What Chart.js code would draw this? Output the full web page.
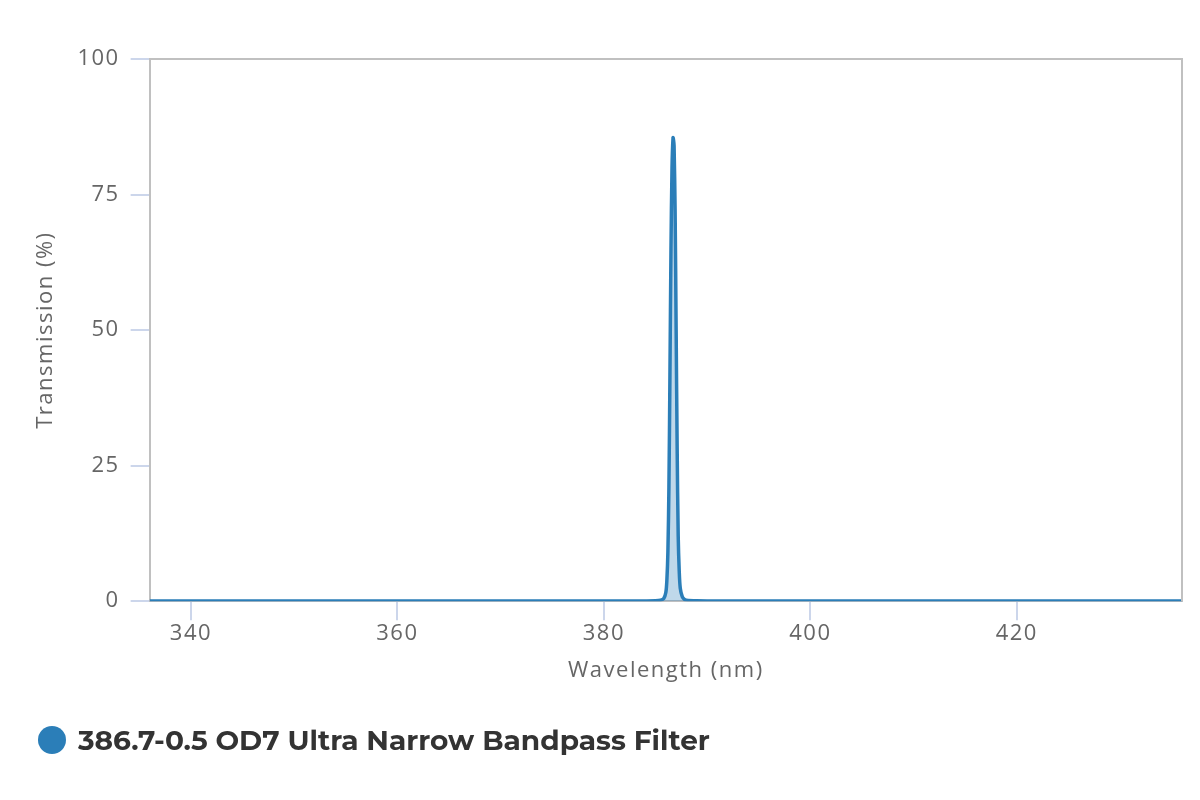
<!DOCTYPE html>
<html>
<head>
<meta charset="utf-8">
<script src="https://cdn.jsdelivr.net/npm/chart.js@4.4.1/dist/chart.umd.min.js"></script>
<style>
  html, body { margin: 0; padding: 0; background: #ffffff; }
  #wrap { position: relative; width: 1200px; height: 800px; }
  #legend { position: absolute; left: 38px; top: 723px; display: flex; align-items: center;
            font-family: Montserrat, "Open Sans", sans-serif; font-weight: 700; font-size: 28px; color: #333333; }
  #legend .dot { width: 28px; height: 28px; border-radius: 50%; background: #2b7eb8; margin-right: 12px; }
</style>
</head>
<body>
<div id="wrap">
  <canvas id="c" width="1200" height="800"></canvas>
  <div id="legend"><span class="dot"></span><span id="legendText"></span></div>
</div>
<script>
const seriesName = "386.7-0.5 OD7 Ultra Narrow Bandpass Filter";
const wavelengths = [336, 350, 370, 380, 384, 385, 385.5, 385.8, 386.0, 386.1, 386.2, 386.3, 386.4, 386.5, 386.6, 386.7, 386.75, 386.8, 386.9, 387.0, 387.1, 387.2, 387.3, 387.4, 387.6, 387.8, 388, 389, 390, 400, 420, 436];
const transmission = [0.02, 0.02, 0.02, 0.03, 0.05, 0.08, 0.2, 0.5, 1.6, 3.8, 9, 21, 42, 65, 80, 85.5, 85.0, 84, 72, 50, 28, 12, 5.5, 2.4, 0.8, 0.35, 0.2, 0.08, 0.05, 0.03, 0.02, 0.02];
const xTicks = [340, 360, 380, 400, 420];
const yTicks = [0, 25, 50, 75, 100];

document.getElementById('legendText').textContent = seriesName;
const points = wavelengths.map((w, i) => ({ x: w, y: transmission[i] }));

const spacing = {
  id: 'spacing',
  beforeUpdate(chart) { chart.ctx.letterSpacing = '1.5px'; },
  beforeLayout(chart) { chart.ctx.letterSpacing = '1.5px'; },
  beforeDraw(chart) { chart.ctx.letterSpacing = '1.5px'; }
};

const frame = {
  id: 'frame',
  afterDraw(chart) {
    const { ctx, chartArea: a } = chart;
    ctx.save();
    ctx.strokeStyle = '#c0c0c0';
    ctx.lineWidth = 2;
    ctx.beginPath();
    ctx.moveTo(a.left, a.top);
    ctx.lineTo(a.right, a.top);
    ctx.lineTo(a.right, a.bottom);
    ctx.stroke();
    ctx.restore();
  }
};

new Chart(document.getElementById('c'), {
  type: 'scatter',
  data: {
    datasets: [{
      label: seriesName,
      data: points,
      showLine: true,
      borderColor: '#2b7eb8',
      backgroundColor: 'rgba(43,126,184,0.3)',
      fill: 'origin',
      borderWidth: 3.5,
      pointRadius: 0,
      tension: 0.3
    }]
  },
  plugins: [spacing, frame],
  options: {
    responsive: false,
    animation: false,
    layout: { padding: { left: 33, right: 18, top: 59, bottom: 116 } },
    plugins: {
      tooltip: { enabled: false },
      legend: { display: false }
    },
    scales: {
      x: {
        type: 'linear',
        min: 336,
        max: 436,
        afterBuildTicks(axis) { axis.ticks = xTicks.map(v => ({ value: v })); },
        grid: { drawOnChartArea: false, drawTicks: true, tickLength: 19, color: '#ccd6eb', lineWidth: 2 },
        border: { display: true, color: '#c0c0c0', width: 2 },
        ticks: { color: '#666666', padding: 0, font: { family: '"Open Sans", sans-serif', size: 22 } },
        title: { display: true, text: 'Wavelength (nm)', color: '#666666', padding: { top: 11, bottom: 0 }, font: { family: '"Open Sans", sans-serif', size: 22 } }
      },
      y: {
        min: 0,
        max: 100,
        afterBuildTicks(axis) { axis.ticks = yTicks.map(v => ({ value: v })); },
        grid: { drawOnChartArea: false, drawTicks: true, tickLength: 19, color: '#ccd6eb', lineWidth: 2 },
        border: { display: true, color: '#c0c0c0', width: 2 },
        ticks: { color: '#666666', padding: 11, font: { family: '"Open Sans", sans-serif', size: 22 } },
        title: { display: true, text: 'Transmission (%)', color: '#666666', padding: { top: 0, bottom: 7 }, font: { family: '"Open Sans", sans-serif', size: 22 } }
      }
    }
  }
});
</script>
</body>
</html>
